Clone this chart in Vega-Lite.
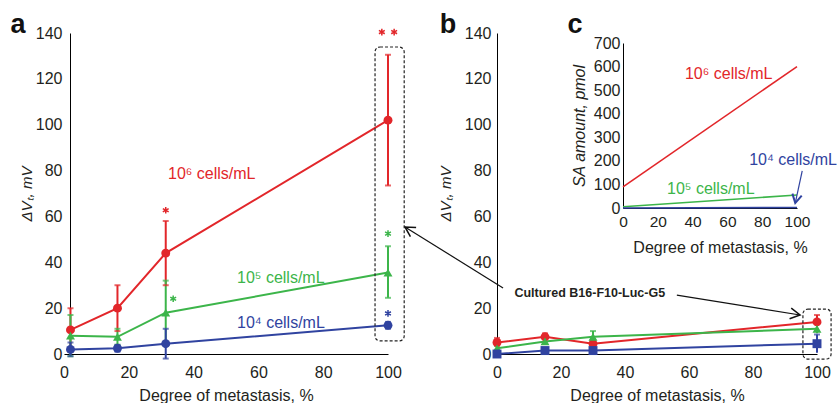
{
  "$schema": "https://vega.github.io/schema/vega-lite/v6.json",
  "padding": {"left": 10, "top": 11, "right": 0, "bottom": 0},
  "bounds": "flush",
  "spacing": 109,
  "config": {
    "view": {"stroke": null},
    "axis": {"labelFont": "Liberation Sans", "titleFont": "Liberation Sans", "labelFontSize": 16, "titleFontSize": 16, "titleFontWeight": "normal", "labelColor": "#231f20", "titleColor": "#231f20", "domainColor": "#000000", "grid": false, "ticks": false, "labelFlush": false, "labelOverlap": false},
    "text": {"font": "Liberation Sans"}
  },
  "datasets": {
    "a": [
      {"s": "1e6", "x": 2, "y": 10.5, "lo": 1, "hi": 20},
      {"s": "1e6", "x": 16.5, "y": 20, "lo": 10, "hi": 30},
      {"s": "1e6", "x": 31.4, "y": 44, "lo": 30, "hi": 58},
      {"s": "1e6", "x": 100, "y": 102, "lo": 73.5, "hi": 130.5},
      {"s": "1e5", "x": 2, "y": 8, "lo": -1, "hi": 17},
      {"s": "1e5", "x": 16.5, "y": 7.5, "lo": 4, "hi": 11},
      {"s": "1e5", "x": 31.4, "y": 18, "lo": 4, "hi": 32},
      {"s": "1e5", "x": 100, "y": 35.5, "lo": 24.5, "hi": 47},
      {"s": "1e4", "x": 2, "y": 2, "lo": -1, "hi": 5},
      {"s": "1e4", "x": 16.5, "y": 2.5, "lo": 1, "hi": 4},
      {"s": "1e4", "x": 31.4, "y": 4.5, "lo": -2, "hi": 11},
      {"s": "1e4", "x": 100, "y": 12.5, "lo": 11, "hi": 14}
    ],
    "b": [
      {"s": "1e6", "x": 0, "y": 5, "lo": 3, "hi": 7},
      {"s": "1e6", "x": 15, "y": 7.5, "lo": 6, "hi": 9},
      {"s": "1e6", "x": 30, "y": 4.5, "lo": 3, "hi": 6},
      {"s": "1e6", "x": 100, "y": 14, "lo": 11, "hi": 17},
      {"s": "1e5", "x": 0, "y": 2.5, "lo": 1.5, "hi": 3.5},
      {"s": "1e5", "x": 15, "y": 5.5, "lo": 4, "hi": 7},
      {"s": "1e5", "x": 30, "y": 7.5, "lo": 5, "hi": 10},
      {"s": "1e5", "x": 100, "y": 11, "lo": 9, "hi": 13},
      {"s": "1e4", "x": 0, "y": 0, "lo": 0, "hi": 0},
      {"s": "1e4", "x": 15, "y": 1.5, "lo": 0.5, "hi": 2.5},
      {"s": "1e4", "x": 30, "y": 1.5, "lo": 0.5, "hi": 2.5},
      {"s": "1e4", "x": 100, "y": 4.5, "lo": 0.5, "hi": 8.5}
    ],
    "c": [
      {"s": "1e6", "x": 0, "y": 90},
      {"s": "1e6", "x": 100, "y": 600},
      {"s": "1e5", "x": 0, "y": 5},
      {"s": "1e5", "x": 100, "y": 55},
      {"s": "1e4", "x": 0, "y": 0},
      {"s": "1e4", "x": 100, "y": 2}
    ],
    "stars_a": [
      {"s": "1e6", "x": 31.4, "y": 62.7},
      {"s": "1e6", "x": 98.1, "y": 140.4},
      {"s": "1e6", "x": 101.9, "y": 140.4},
      {"s": "1e5", "x": 33.7, "y": 24.1},
      {"s": "1e5", "x": 100, "y": 52.5},
      {"s": "1e4", "x": 100, "y": 17.7}
    ],
    "labels_a": [
      {"s": "1e6", "x": 32.1, "y": 78.5, "t": "10⁶ cells/mL"},
      {"s": "1e5", "x": 53.4, "y": 33.1, "t": "10⁵ cells/mL"},
      {"s": "1e4", "x": 53.4, "y": 13.5, "t": "10⁴ cells/mL"}
    ],
    "labels_c": [
      {"s": "1e6", "x": 35.6, "y": 568, "t": "10⁶ cells/mL"},
      {"s": "1e5", "x": 25.3, "y": 80, "t": "10⁵ cells/mL"},
      {"s": "1e4", "x": 72.5, "y": 203, "t": "10⁴ cells/mL"}
    ]
  },
  "resolve": {"scale": {"shape": "independent"}},
  "hconcat": [
    {
      "width": 324,
      "height": 321,
      "layer": [
        {
          "data": {"name": "a"},
          "mark": {"type": "line", "strokeWidth": 2},
          "encoding": {
            "x": {"field": "x", "type": "quantitative", "scale": {"domain": [0, 100]}, "axis": {"values": [0, 20, 40, 60, 80, 100], "title": "Degree of metastasis, %", "labelPadding": 10, "titlePadding": 7}},
            "y": {"field": "y", "type": "quantitative", "scale": {"domain": [0, 140]}, "axis": {"values": [0, 20, 40, 60, 80, 100, 120, 140], "title": "ΔVₜ, mV", "titleFontSize": 15, "titleFontStyle": "italic", "offset": -6, "labelPadding": 8, "titleX": -36}},
            "color": {"field": "s", "type": "nominal", "scale": {"domain": ["1e6", "1e5", "1e4"], "range": ["#e2262a", "#3cb54a", "#3043a0"]}, "legend": null}
          }
        },
        {
          "data": {"name": "a"},
          "mark": {"type": "rule", "strokeWidth": 2},
          "encoding": {
            "x": {"field": "x", "type": "quantitative"},
            "y": {"field": "lo", "type": "quantitative"},
            "y2": {"field": "hi"},
            "color": {"field": "s", "type": "nominal", "legend": null}
          }
        },
        {
          "data": {"name": "a"},
          "mark": {"type": "tick", "orient": "horizontal", "size": 6, "thickness": 2},
          "encoding": {
            "x": {"field": "x", "type": "quantitative"},
            "y": {"field": "hi", "type": "quantitative"},
            "color": {"field": "s", "type": "nominal", "legend": null}
          }
        },
        {
          "data": {"name": "a"},
          "mark": {"type": "tick", "orient": "horizontal", "size": 6, "thickness": 2},
          "encoding": {
            "x": {"field": "x", "type": "quantitative"},
            "y": {"field": "lo", "type": "quantitative"},
            "color": {"field": "s", "type": "nominal", "legend": null}
          }
        },
        {
          "data": {"name": "a"},
          "mark": {"type": "point", "filled": true, "size": 80, "opacity": 1},
          "encoding": {
            "x": {"field": "x", "type": "quantitative"},
            "y": {"field": "y", "type": "quantitative"},
            "color": {"field": "s", "type": "nominal", "legend": null},
            "shape": {"field": "s", "type": "nominal", "scale": {"domain": ["1e6", "1e5", "1e4"], "range": ["circle", "triangle-up", "circle"]}, "legend": null}
          }
        },
        {
          "data": {"name": "stars_a"},
          "mark": {"type": "point", "shape": "M0,-1L0,1M-0.87,-0.5L0.87,0.5M-0.87,0.5L0.87,-0.5", "filled": false, "size": 45, "strokeWidth": 1.5, "opacity": 1},
          "encoding": {
            "x": {"field": "x", "type": "quantitative"},
            "y": {"field": "y", "type": "quantitative"},
            "color": {"field": "s", "type": "nominal", "legend": null}
          }
        },
        {
          "data": {"name": "labels_a"},
          "mark": {"type": "text", "align": "left", "baseline": "middle", "fontSize": 16},
          "encoding": {
            "x": {"field": "x", "type": "quantitative"},
            "y": {"field": "y", "type": "quantitative"},
            "text": {"field": "t"},
            "color": {"field": "s", "type": "nominal", "legend": null}
          }
        },
        {
          "data": {"values": [{"x": 96, "x2": 105, "y": 5.7, "y2": 133.9}]},
          "mark": {"type": "rect", "fill": null, "stroke": "#222222", "strokeWidth": 1.2, "strokeDash": [3, 2], "cornerRadius": 5},
          "encoding": {
            "x": {"field": "x", "type": "quantitative"},
            "x2": {"field": "x2"},
            "y": {"field": "y", "type": "quantitative"},
            "y2": {"field": "y2"}
          }
        },
        {
          "data": {"values": [{"x": -14.2, "y": 140, "t": "a"}]},
          "mark": {"type": "text", "align": "center", "baseline": "alphabetic", "fontSize": 27, "fontWeight": "bold", "color": "#111111"},
          "encoding": {
            "x": {"field": "x", "type": "quantitative"},
            "y": {"field": "y", "type": "quantitative"},
            "text": {"field": "t"}
          }
        }
      ]
    },
    {
      "width": 320,
      "height": 321,
      "layer": [
        {
          "layer": [
            {
              "data": {"name": "b"},
              "mark": {"type": "line", "strokeWidth": 2},
              "encoding": {
                "x": {"field": "x", "type": "quantitative", "scale": {"domain": [0, 100]}, "axis": {"values": [0, 20, 40, 60, 80, 100], "title": "Degree of metastasis, %", "labelPadding": 10, "titlePadding": 7}},
                "y": {"field": "y", "type": "quantitative", "scale": {"domain": [0, 140]}, "axis": {"values": [0, 20, 40, 60, 80, 100, 120, 140], "title": "ΔVₜ, mV", "titleFontSize": 15, "titleFontStyle": "italic", "labelPadding": 6, "titlePadding": 11}},
                "color": {"field": "s", "type": "nominal", "legend": null}
              }
            },
            {
              "data": {"name": "b"},
              "mark": {"type": "rule", "strokeWidth": 2},
              "encoding": {
                "x": {"field": "x", "type": "quantitative"},
                "y": {"field": "lo", "type": "quantitative"},
                "y2": {"field": "hi"},
                "color": {"field": "s", "type": "nominal", "legend": null}
              }
            },
            {
              "data": {"name": "b"},
              "mark": {"type": "tick", "orient": "horizontal", "size": 6, "thickness": 2},
              "encoding": {
                "x": {"field": "x", "type": "quantitative"},
                "y": {"field": "hi", "type": "quantitative"},
                "color": {"field": "s", "type": "nominal", "legend": null}
              }
            },
            {
              "data": {"name": "b"},
              "mark": {"type": "point", "filled": true, "size": 80, "opacity": 1},
              "encoding": {
                "x": {"field": "x", "type": "quantitative"},
                "y": {"field": "y", "type": "quantitative"},
                "color": {"field": "s", "type": "nominal", "legend": null},
                "shape": {"field": "s", "type": "nominal", "scale": {"domain": ["1e6", "1e5", "1e4"], "range": ["circle", "triangle-up", "square"]}, "legend": null}
              }
            },
            {
              "data": {"values": [{"x": 95.6, "x2": 104.4, "y": -2.2, "y2": 19.6}]},
              "mark": {"type": "rect", "fill": null, "stroke": "#222222", "strokeWidth": 1.2, "strokeDash": [3, 2], "cornerRadius": 5},
              "encoding": {
                "x": {"field": "x", "type": "quantitative"},
                "x2": {"field": "x2"},
                "y": {"field": "y", "type": "quantitative"},
                "y2": {"field": "y2"}
              }
            },
            {
              "data": {"values": [{"x": 56.2, "y": 25.7, "x2": 94.7, "y2": 17}, {"x": 1.9, "y": 28.8, "x2": -28.75, "y2": 55.4}]},
              "mark": {"type": "rule", "strokeWidth": 1.2, "color": "#111111"},
              "encoding": {
                "x": {"field": "x", "type": "quantitative"},
                "y": {"field": "y", "type": "quantitative"},
                "x2": {"field": "x2"},
                "y2": {"field": "y2"}
              }
            },
            {
              "data": {"values": [{"x": 94.7, "y": 17}]},
              "mark": {"type": "point", "shape": "M-1,-0.55L0,0L-1,0.55", "filled": false, "size": 380, "strokeWidth": 1.5, "color": "#111111", "opacity": 1, "angle": 9},
              "encoding": {
                "x": {"field": "x", "type": "quantitative"},
                "y": {"field": "y", "type": "quantitative"}
              }
            },
            {
              "data": {"values": [{"x": -28.75, "y": 55.4}]},
              "mark": {"type": "point", "shape": "M-1,-0.55L0,0L-1,0.55", "filled": false, "size": 380, "strokeWidth": 1.5, "color": "#111111", "opacity": 1, "angle": 212},
              "encoding": {
                "x": {"field": "x", "type": "quantitative"},
                "y": {"field": "y", "type": "quantitative"}
              }
            },
            {
              "data": {"values": [{"x": 29, "y": 26.6, "t": "Cultured B16-F10-Luc-G5"}]},
              "mark": {"type": "text", "align": "center", "baseline": "middle", "fontSize": 12.5, "fontWeight": "bold", "color": "#231f20"},
              "encoding": {
                "x": {"field": "x", "type": "quantitative"},
                "y": {"field": "y", "type": "quantitative"},
                "text": {"field": "t"}
              }
            },
            {
              "data": {"values": [{"x": -15.3, "y": 140, "t": "b"}, {"x": 24.4, "y": 140, "t": "c"}]},
              "mark": {"type": "text", "align": "center", "baseline": "alphabetic", "fontSize": 27, "fontWeight": "bold", "color": "#111111"},
              "encoding": {
                "x": {"field": "x", "type": "quantitative"},
                "y": {"field": "y", "type": "quantitative"},
                "text": {"field": "t"}
              }
            }
          ]
        },
        {
          "layer": [
            {
              "data": {"name": "c"},
              "mark": {"type": "line", "strokeWidth": 1.6},
              "encoding": {
                "x": {"field": "x", "type": "quantitative", "scale": {"domain": [0, 100], "range": [126, 300]}, "axis": {"orient": "bottom", "offset": -146, "values": [0, 20, 40, 60, 80, 100], "title": "Degree of metastasis, %", "titleFontSize": 16, "labelFontSize": 15.5, "labelPadding": 6, "titlePadding": 10, "titleX": 223}},
                "y": {"field": "y", "type": "quantitative", "scale": {"domain": [0, 700], "range": [175, 10]}, "axis": {"orient": "left", "offset": -126, "values": [0, 100, 200, 300, 400, 500, 600, 700], "title": "SA amount, pmol", "titleFontStyle": "italic", "titleFontSize": 16, "labelPadding": 3, "titlePadding": 6}},
                "color": {"field": "s", "type": "nominal", "legend": null},
                "strokeWidth": {"condition": {"test": "datum.s === '1e4'", "value": 3}, "value": 1.6}
              }
            },
            {
              "data": {"name": "labels_c"},
              "mark": {"type": "text", "align": "left", "baseline": "middle", "fontSize": 16},
              "encoding": {
                "x": {"field": "x", "type": "quantitative"},
                "y": {"field": "y", "type": "quantitative"},
                "text": {"field": "t"},
                "color": {"field": "s", "type": "nominal", "legend": null}
              }
            },
            {
              "data": {"values": [{"x": 103, "y": 157, "x2": 99, "y2": 21}]},
              "mark": {"type": "rule", "strokeWidth": 1.2, "color": "#3043a0"},
              "encoding": {
                "x": {"field": "x", "type": "quantitative"},
                "y": {"field": "y", "type": "quantitative"},
                "x2": {"field": "x2"},
                "y2": {"field": "y2"}
              }
            },
            {
              "data": {"values": [{"x": 99, "y": 21}]},
              "mark": {"type": "point", "shape": "M-1,-0.55L0,0L-1,0.55", "filled": false, "size": 300, "strokeWidth": 2, "color": "#3043a0", "opacity": 1, "angle": 102},
              "encoding": {
                "x": {"field": "x", "type": "quantitative"},
                "y": {"field": "y", "type": "quantitative"}
              }
            }
          ]
        }
      ],
      "resolve": {"scale": {"x": "independent", "y": "independent"}, "axis": {"x": "independent", "y": "independent"}}
    }
  ]
}
